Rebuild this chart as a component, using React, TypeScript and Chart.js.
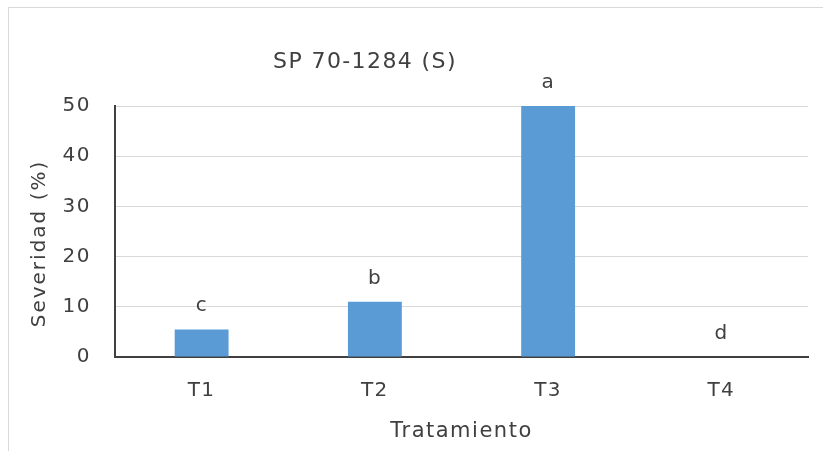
import React, { useEffect, useRef } from "react";
import { Chart, registerables } from "chart.js";

Chart.register(...registerables);

const chartTitle = "SP 70-1284 (S)";
const categories = ["T1", "T2", "T3", "T4"];
const severity = [5.5, 11, 50, 0];
const groupLetters = ["c", "b", "a", "d"];
const yTitle = "Severidad (%)";
const xTitle = "Tratamiento";
const yMin = 0;
const yMax = 50;
const yStep = 10;

const FONT = "'DejaVu Sans', Verdana, sans-serif";
const TEXT = "#404040";

const textPlugin = {
  id: "textPlugin",
  beforeDraw(chart: any) {
    chart.ctx.letterSpacing = "1.5px";
  },
  afterDatasetsDraw(chart: any) {
    const ctx = chart.ctx;
    const area = chart.chartArea;
    ctx.save();
    ctx.fillStyle = TEXT;
    // letters above bars
    ctx.font = `20px ${FONT}`;
    ctx.letterSpacing = "1px";
    ctx.textAlign = "center";
    ctx.textBaseline = "alphabetic";
    const meta = chart.getDatasetMeta(0);
    meta.data.forEach((bar: any, i: number) => {
      ctx.fillText(groupLetters[i], bar.x, bar.y - 18);
    });
    // chart title
    ctx.font = `22px ${FONT}`;
    ctx.letterSpacing = "1.4px";
    ctx.fillText(chartTitle, area.left + 250, 60);
    // y axis title
    ctx.font = `20px ${FONT}`;
    ctx.letterSpacing = "2px";
    ctx.translate(36, (area.top + area.bottom) / 2 + 12);
    ctx.rotate(-Math.PI / 2);
    ctx.textBaseline = "alphabetic";
    ctx.fillText(yTitle, 0, 0);
    ctx.restore();
  },
};

export default function App() {
  const ref = useRef<HTMLCanvasElement | null>(null);
  useEffect(() => {
    if (!ref.current) return;
    const chart = new Chart(ref.current, {
      type: "bar",
      data: {
        labels: categories,
        datasets: [
          {
            data: severity,
            backgroundColor: "#5b9bd5",
            borderWidth: 0,
            categoryPercentage: 1,
            barPercentage: 0.311,
          },
        ],
      },
      options: {
        animation: false,
        responsive: true,
        maintainAspectRatio: false,
        layout: { padding: { left: 0, right: 15, top: 98, bottom: 0 } },
        plugins: {
          legend: { display: false },
          tooltip: { enabled: false },
          title: { display: false },
        },
        scales: {
          x: {
            afterFit(scale: any) {
              scale.height = 94;
            },
            grid: { display: false, drawTicks: false },
            border: { display: true, color: "#404040", width: 2 },
            ticks: {
              color: TEXT,
              font: { family: FONT, size: 20 },
              padding: 22,
              maxRotation: 0,
            },
            title: {
              display: true,
              text: xTitle,
              color: TEXT,
              font: { family: FONT, size: 21 },
              padding: { top: 0, bottom: 7 },
            },
          },
          y: {
            min: yMin,
            max: yMax,
            afterFit(scale: any) {
              scale.width = 106;
            },
            grid: { color: "#d9d9d9", lineWidth: 1, drawTicks: false },
            border: { display: true, color: "#404040", width: 2 },
            ticks: {
              stepSize: yStep,
              color: TEXT,
              font: { family: FONT, size: 20 },
              padding: 24,
            },
          },
        },
      },
      plugins: [textPlugin],
    });
    return () => chart.destroy();
  }, []);

  return (
    <div style={{ position: "fixed", left: 0, top: 0, width: 823, height: 451, background: "#fff" }}>
      <div
        style={{
          position: "absolute",
          left: 8,
          top: 7,
          width: 815,
          height: 444,
          boxSizing: "border-box",
          borderTop: "1px solid #d9d9d9",
          borderLeft: "1px solid #d9d9d9",
        }}
      >
        <div style={{ position: "relative", width: 814, height: 443 }}>
          <canvas ref={ref} />
        </div>
      </div>
    </div>
  );
}
